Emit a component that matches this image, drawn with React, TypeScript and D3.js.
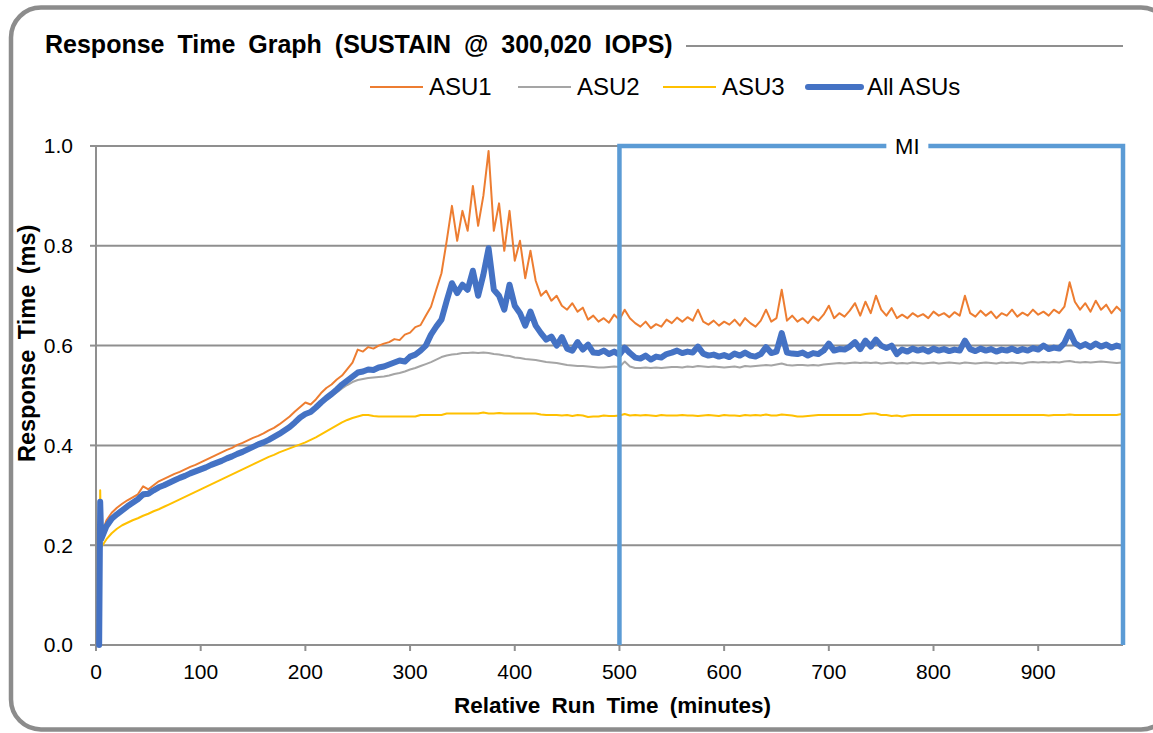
import React, { useRef, useEffect } from 'react'
import * as d3 from 'd3'

// samples every 5 minutes, starting at minute 5
const sampleStart = 5
const sampleStep = 5

// ramp-up samples before the regular interval
const startupMinutes = [3, 4]
const startupAsu1 = [0, 0.27]
const startupAsu2 = [0, 0.28]
const startupAsu3 = [0, 0.31]
const startupAll = [0, 0.287]

const asu1 = [
  0.22, 0.25, 0.265, 0.275, 0.283, 0.29, 0.296, 0.302, 0.318, 0.312,
  0.32, 0.328, 0.333, 0.338, 0.343, 0.347, 0.352, 0.357, 0.361, 0.366,
  0.371, 0.376, 0.381, 0.386, 0.391, 0.395, 0.401, 0.405, 0.41, 0.415,
  0.419, 0.424, 0.43, 0.435, 0.442, 0.45, 0.458, 0.468, 0.477, 0.486,
  0.482, 0.492, 0.505, 0.515, 0.522, 0.532, 0.54, 0.553, 0.566, 0.592,
  0.588, 0.597, 0.594, 0.6, 0.604, 0.607, 0.613, 0.611, 0.622, 0.626,
  0.637, 0.641, 0.66, 0.678, 0.712, 0.745, 0.81, 0.88, 0.81, 0.87,
  0.83, 0.92, 0.84, 0.9, 0.99, 0.83, 0.885, 0.79, 0.87, 0.77,
  0.81, 0.735, 0.79, 0.73, 0.7, 0.71, 0.69, 0.7, 0.68, 0.672,
  0.685, 0.668, 0.676, 0.652, 0.66, 0.648, 0.655, 0.646, 0.662, 0.652,
  0.672, 0.655, 0.645, 0.638, 0.648, 0.635, 0.643, 0.638, 0.652, 0.645,
  0.656, 0.648, 0.657, 0.65, 0.672, 0.648, 0.642, 0.65, 0.64, 0.648,
  0.642, 0.652, 0.64, 0.655, 0.645, 0.638, 0.65, 0.672, 0.648, 0.655,
  0.712, 0.65, 0.66, 0.648, 0.655, 0.645, 0.658, 0.65, 0.662, 0.68,
  0.655, 0.665, 0.658, 0.67, 0.685, 0.66, 0.688, 0.665, 0.7, 0.672,
  0.66, 0.675, 0.655, 0.662, 0.655, 0.665, 0.658, 0.663, 0.655, 0.668,
  0.66, 0.665, 0.657, 0.667, 0.66, 0.7, 0.665, 0.658, 0.67, 0.66,
  0.668, 0.655, 0.665, 0.66, 0.672, 0.658, 0.666, 0.66, 0.672, 0.662,
  0.668, 0.66, 0.672, 0.665, 0.678, 0.727, 0.688, 0.672, 0.685, 0.668,
  0.69, 0.672, 0.682, 0.665, 0.678, 0.668,
]

const asu2 = [
  0.21, 0.236, 0.25, 0.26, 0.268, 0.276, 0.283, 0.29, 0.297, 0.3,
  0.307, 0.313, 0.318, 0.323, 0.328, 0.333, 0.337, 0.342, 0.346, 0.35,
  0.354, 0.359, 0.363, 0.367, 0.372, 0.376, 0.381, 0.385, 0.39, 0.395,
  0.4, 0.404, 0.409, 0.415, 0.421, 0.428, 0.435, 0.443, 0.452, 0.46,
  0.465, 0.474, 0.483, 0.491, 0.498, 0.506, 0.514, 0.521, 0.527, 0.531,
  0.533, 0.535, 0.536, 0.537, 0.538, 0.54, 0.543, 0.545, 0.548, 0.552,
  0.555, 0.559, 0.563, 0.567, 0.572, 0.577, 0.58, 0.582, 0.583, 0.585,
  0.585, 0.586, 0.585, 0.586, 0.585, 0.583, 0.582, 0.58, 0.579, 0.576,
  0.575, 0.573, 0.572, 0.571, 0.569, 0.567, 0.566, 0.565, 0.563, 0.561,
  0.56, 0.559, 0.559, 0.558, 0.557, 0.556, 0.556, 0.557, 0.558, 0.557,
  0.568, 0.558, 0.555, 0.555, 0.556, 0.555, 0.556, 0.555, 0.556, 0.557,
  0.557, 0.556, 0.558, 0.557, 0.559, 0.558, 0.557, 0.558, 0.557, 0.556,
  0.557, 0.558, 0.556, 0.559, 0.558, 0.559, 0.56, 0.561, 0.56, 0.562,
  0.564, 0.561, 0.56, 0.561, 0.561, 0.56, 0.561, 0.56, 0.562, 0.563,
  0.564, 0.565, 0.564, 0.565, 0.566, 0.565, 0.566, 0.565, 0.566, 0.564,
  0.565, 0.566, 0.564, 0.565, 0.564, 0.566, 0.565, 0.564, 0.565, 0.566,
  0.564, 0.565, 0.566, 0.565, 0.564, 0.566, 0.565, 0.564, 0.565, 0.566,
  0.565, 0.564, 0.566, 0.565, 0.566, 0.565, 0.564, 0.566, 0.567, 0.566,
  0.567, 0.566, 0.567, 0.566, 0.568, 0.569, 0.567, 0.566, 0.567, 0.566,
  0.567, 0.568, 0.567, 0.566, 0.565, 0.566,
]

const asu3 = [
  0.196, 0.212, 0.224, 0.233, 0.24, 0.245, 0.25, 0.254, 0.259, 0.263,
  0.268, 0.272, 0.277, 0.282, 0.287, 0.292, 0.297, 0.302, 0.307, 0.312,
  0.317, 0.322, 0.327, 0.332, 0.337, 0.342, 0.347, 0.352, 0.357, 0.362,
  0.367, 0.372, 0.377, 0.381, 0.386, 0.39, 0.394, 0.398, 0.402, 0.406,
  0.411, 0.416, 0.422, 0.428, 0.434, 0.44, 0.446, 0.451, 0.455, 0.458,
  0.461, 0.461, 0.459, 0.458, 0.458, 0.458, 0.458, 0.458, 0.458, 0.458,
  0.458, 0.461, 0.461, 0.461, 0.461, 0.461, 0.464, 0.464, 0.464, 0.464,
  0.464, 0.464, 0.464, 0.466, 0.464, 0.464, 0.465, 0.464, 0.464, 0.464,
  0.464, 0.464, 0.464, 0.464, 0.462, 0.461, 0.461, 0.461, 0.46, 0.461,
  0.459, 0.461, 0.46, 0.457, 0.458, 0.458, 0.46, 0.459, 0.459, 0.46,
  0.463, 0.46, 0.461, 0.46, 0.461, 0.46, 0.459, 0.461, 0.46, 0.46,
  0.46, 0.461, 0.46, 0.46, 0.459, 0.46, 0.461, 0.46, 0.459, 0.461,
  0.46, 0.46, 0.459, 0.461, 0.46, 0.461, 0.46, 0.462, 0.46, 0.46,
  0.462, 0.461, 0.46, 0.458, 0.458, 0.459, 0.46, 0.461, 0.461, 0.461,
  0.461, 0.461, 0.461, 0.461, 0.461, 0.461, 0.463, 0.464, 0.464, 0.461,
  0.461, 0.459, 0.46, 0.458, 0.46, 0.461, 0.461, 0.461, 0.461, 0.461,
  0.461, 0.461, 0.461, 0.461, 0.461, 0.461, 0.461, 0.461, 0.461, 0.461,
  0.461, 0.461, 0.461, 0.461, 0.461, 0.461, 0.461, 0.461, 0.461, 0.461,
  0.461, 0.46, 0.461, 0.461, 0.461, 0.462, 0.461, 0.461, 0.461, 0.461,
  0.461, 0.461, 0.461, 0.461, 0.461, 0.463,
]

const allAsus = [
  0.212, 0.238, 0.253, 0.262, 0.27, 0.278, 0.285, 0.292, 0.302, 0.303,
  0.31, 0.316, 0.32, 0.325, 0.33, 0.335, 0.339, 0.344, 0.348, 0.352,
  0.356, 0.361, 0.365, 0.369, 0.374, 0.378, 0.383, 0.387, 0.392, 0.397,
  0.402, 0.406, 0.411, 0.417, 0.423, 0.43, 0.437, 0.446, 0.456, 0.463,
  0.467, 0.476, 0.486, 0.495, 0.503, 0.512, 0.522, 0.53, 0.538, 0.546,
  0.548, 0.552, 0.551, 0.556, 0.558, 0.562, 0.566, 0.57, 0.568, 0.578,
  0.582, 0.59, 0.6, 0.622, 0.638, 0.652, 0.69, 0.725, 0.705, 0.722,
  0.712, 0.75, 0.7, 0.742, 0.795, 0.712, 0.7, 0.672, 0.722, 0.68,
  0.665, 0.64, 0.668, 0.64, 0.625, 0.612, 0.618, 0.6, 0.617, 0.594,
  0.59, 0.607, 0.592, 0.602, 0.586, 0.585, 0.59, 0.583, 0.588, 0.582,
  0.596, 0.585, 0.576, 0.574, 0.58, 0.572, 0.578, 0.576, 0.583, 0.586,
  0.59, 0.585, 0.588, 0.586, 0.598, 0.584, 0.58, 0.582, 0.578, 0.581,
  0.577, 0.584, 0.58, 0.586, 0.58, 0.578, 0.583, 0.597, 0.585, 0.588,
  0.625, 0.586, 0.584, 0.583, 0.586, 0.58, 0.585, 0.583, 0.59, 0.604,
  0.59, 0.593, 0.592, 0.598, 0.607, 0.593, 0.61, 0.598, 0.612, 0.6,
  0.595, 0.6, 0.583, 0.592, 0.588, 0.594, 0.59, 0.593, 0.588, 0.594,
  0.59, 0.593, 0.589, 0.592, 0.59, 0.61, 0.593, 0.589, 0.594, 0.59,
  0.593, 0.588, 0.592, 0.59, 0.594, 0.589, 0.593, 0.59, 0.595, 0.592,
  0.6, 0.593, 0.596, 0.594, 0.605, 0.628, 0.605, 0.598, 0.603, 0.597,
  0.604, 0.598, 0.602, 0.596, 0.6, 0.597,
]

const seriesNames = ['ASU1', 'ASU2', 'ASU3', 'All ASUs']
const seriesColors = ['#ED7D31', '#A5A5A5', '#FFC000', '#4472C4']
const seriesWidths = [2, 2, 2, 6]
const yTicks = [0, 0.2, 0.4, 0.6, 0.8, 1.0]
const xTicks = [0, 100, 200, 300, 400, 500, 600, 700, 800, 900]
const miStart = 500
const miEnd = 981
const miLabelAt = 775

const FONT = 'Arial, "Liberation Sans", sans-serif'

const App: React.FC = () => {
  const svgRef = useRef<SVGSVGElement>(null)

  useEffect(() => {
    if (!svgRef.current) return
    const svg = d3.select(svgRef.current)
    svg.selectAll('*').remove()

    const width = 1153
    const height = 733
    const plot = { left: 96, right: 1123, top: 146, bottom: 645 }

    const x = d3.scaleLinear().domain([0, miEnd]).range([plot.left, plot.right])
    const y = d3.scaleLinear().domain([0, 1]).range([plot.bottom, plot.top])

    svg.append('rect').attr('width', width).attr('height', height).attr('fill', '#fff')

    // gridlines
    svg.append('g')
      .selectAll('line')
      .data(yTicks.filter(d => d > 0))
      .join('line')
      .attr('x1', plot.left).attr('x2', plot.right)
      .attr('y1', d => y(d)).attr('y2', d => y(d))
      .attr('stroke', '#8f8f8f').attr('stroke-width', 2)

    // axes
    const axisColor = '#8f8f8f'
    svg.append('line')
      .attr('x1', plot.left).attr('x2', plot.left)
      .attr('y1', plot.top).attr('y2', plot.bottom)
      .attr('stroke', axisColor).attr('stroke-width', 2)
    svg.append('line')
      .attr('x1', plot.left).attr('x2', plot.right)
      .attr('y1', plot.bottom).attr('y2', plot.bottom)
      .attr('stroke', axisColor).attr('stroke-width', 2)

    svg.append('g').selectAll('line').data(yTicks).join('line')
      .attr('x1', plot.left - 6).attr('x2', plot.left)
      .attr('y1', d => y(d)).attr('y2', d => y(d))
      .attr('stroke', axisColor).attr('stroke-width', 2)
    svg.append('g').selectAll('text').data(yTicks).join('text')
      .attr('x', 73).attr('y', d => y(d)).attr('dy', '0.35em')
      .attr('text-anchor', 'end')
      .style('font-family', FONT).style('font-size', '21px').style('fill', '#000')
      .text(d => d3.format('.1f')(d))

    svg.append('g').selectAll('line').data(xTicks).join('line')
      .attr('x1', d => x(d)).attr('x2', d => x(d))
      .attr('y1', plot.bottom).attr('y2', plot.bottom + 6)
      .attr('stroke', axisColor).attr('stroke-width', 2)
    svg.append('g').selectAll('text').data(xTicks).join('text')
      .attr('x', d => x(d)).attr('y', 679)
      .attr('text-anchor', 'middle')
      .style('font-family', FONT).style('font-size', '21px').style('fill', '#000')
      .text(d => String(d))

    // series
    const build = (early: number[], values: number[]) => [
      ...startupMinutes.map((t, i) => ({ t, v: early[i] })),
      ...values.map((v, i) => ({ t: sampleStart + i * sampleStep, v })),
    ]
    const series = [
      build(startupAsu1, asu1),
      build(startupAsu2, asu2),
      build(startupAsu3, asu3),
      build(startupAll, allAsus),
    ]
    const line = d3.line<{ t: number; v: number }>()
      .x(d => x(d.t))
      .y(d => y(d.v))

    svg.append('g').selectAll('path').data(series).join('path')
      .attr('d', d => line(d))
      .attr('fill', 'none')
      .attr('stroke', (d, i) => seriesColors[i])
      .attr('stroke-width', (d, i) => seriesWidths[i])
      .attr('stroke-linejoin', 'round')
      .attr('stroke-linecap', 'round')

    // MI window
    const mi = d3.path()
    mi.moveTo(x(miStart), y(0))
    mi.lineTo(x(miStart), y(1))
    mi.lineTo(x(miEnd), y(1))
    mi.lineTo(x(miEnd), y(0))
    svg.append('path')
      .attr('d', mi.toString())
      .attr('fill', 'none')
      .attr('stroke', '#5B9BD5')
      .attr('stroke-width', 4.5)
    svg.append('rect')
      .attr('x', x(miLabelAt) - 21).attr('y', y(1) - 6)
      .attr('width', 42).attr('height', 12)
      .attr('fill', '#fff')
    svg.append('text')
      .attr('x', x(miLabelAt)).attr('y', y(1)).attr('dy', '0.35em')
      .attr('text-anchor', 'middle')
      .style('font-family', FONT).style('font-size', '22px').style('fill', '#000')
      .text('MI')

    // title
    svg.append('text')
      .attr('x', 45).attr('y', 53)
      .style('font-family', FONT).style('font-size', '25px').style('font-weight', 'bold')
      .style('word-spacing', '6px').style('fill', '#000')
      .text('Response Time Graph (SUSTAIN @ 300,020 IOPS)')
    svg.append('line')
      .attr('x1', 686).attr('x2', plot.right)
      .attr('y1', 46).attr('y2', 46)
      .attr('stroke', '#8f8f8f').attr('stroke-width', 2)

    // legend
    const legendX = [370, 518, 663, 808]
    const legend = svg.append('g').selectAll('g').data(seriesNames).join('g')
      .attr('transform', (d, i) => `translate(${legendX[i]}, 87)`)
    legend.append('line')
      .attr('x1', 0).attr('x2', 53)
      .attr('stroke', (d, i) => seriesColors[i])
      .attr('stroke-width', (d, i) => seriesWidths[i])
      .attr('stroke-linecap', (d, i) => (i === 3 ? 'round' : 'butt'))
    legend.append('text')
      .attr('x', 59).attr('dy', '0.35em')
      .style('font-family', FONT).style('font-size', '24px').style('fill', '#000')
      .text(d => d)

    // axis titles
    svg.append('text')
      .attr('x', (plot.left + plot.right) / 2 + 3).attr('y', 713)
      .attr('text-anchor', 'middle')
      .style('font-family', FONT).style('font-size', '22.5px').style('font-weight', 'bold')
      .style('word-spacing', '5px').style('fill', '#000')
      .text('Relative Run Time (minutes)')
    svg.append('text')
      .attr('transform', 'translate(35, 462) rotate(-90)')
      .attr('text-anchor', 'start')
      .style('font-family', FONT).style('font-size', '23.5px').style('font-weight', 'bold')
      .style('word-spacing', '4px').style('fill', '#000')
      .text('Response Time (ms)')

    // frame
    svg.append('rect')
      .attr('x', 11).attr('y', 7.5)
      .attr('width', 1160).attr('height', 722)
      .attr('rx', 30).attr('ry', 30)
      .attr('fill', 'none')
      .attr('stroke', '#8c8c8c')
      .attr('stroke-width', 4.5)
  }, [])

  return (
    <svg
      ref={svgRef}
      width={1153}
      height={733}
      style={{ position: 'absolute', left: 0, top: 0, display: 'block' }}
    />
  )
}

export default App
